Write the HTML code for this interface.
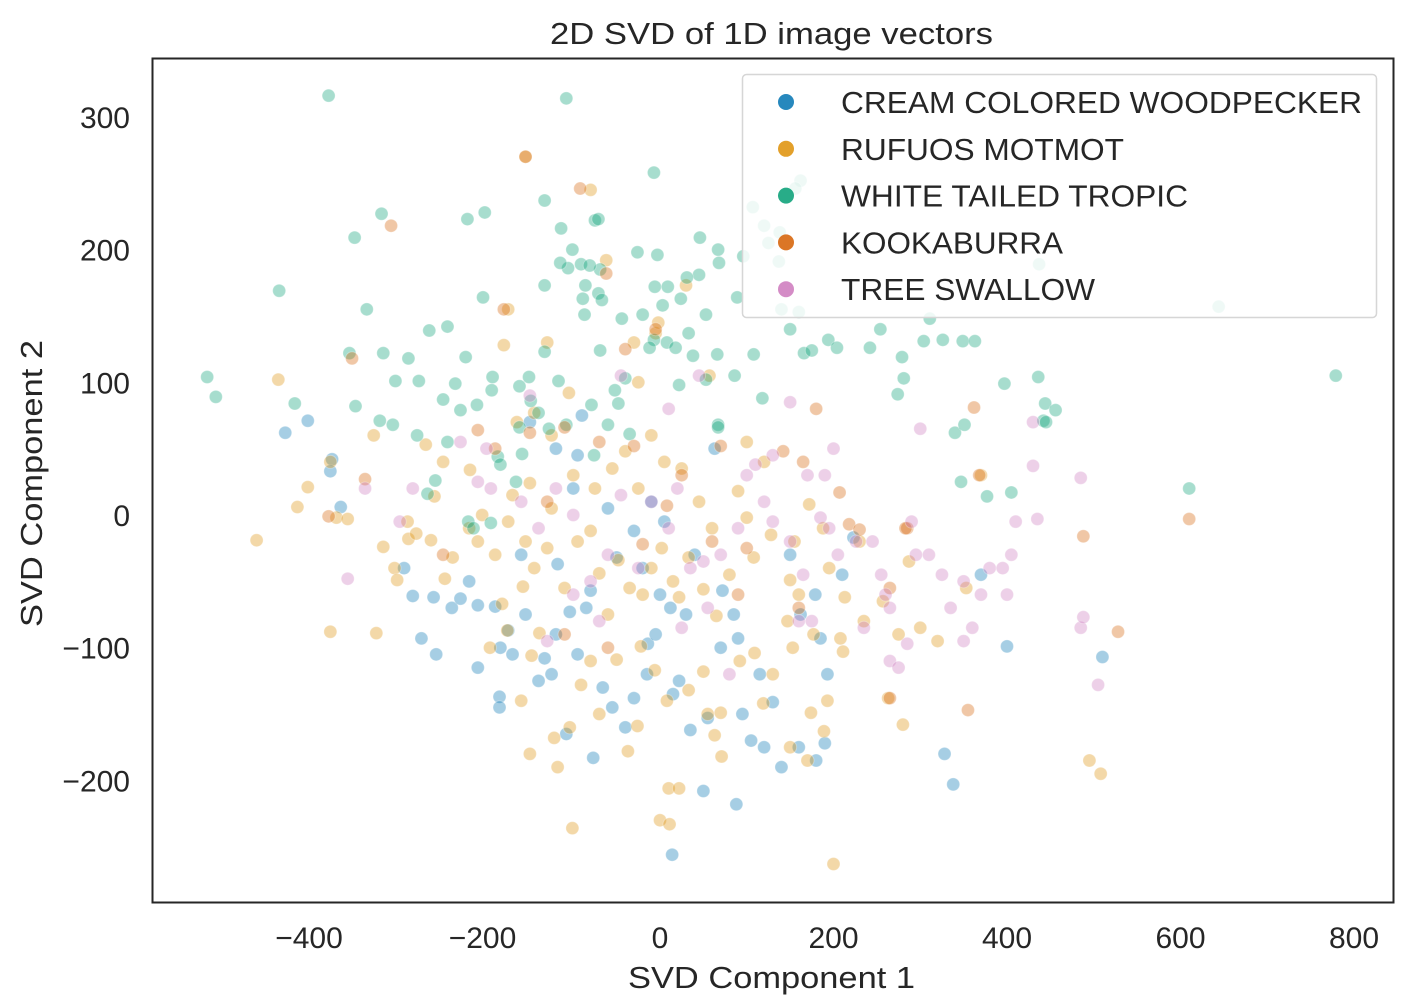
<!DOCTYPE html>
<html><head><meta charset="utf-8"><style>
html,body{margin:0;padding:0;background:#fff;}
svg{display:block;font-family:"Liberation Sans",Arial,sans-serif;}
</style></head><body>
<svg id="chart" width="1428" height="1004" viewBox="0 0 1428 1004" xmlns="http://www.w3.org/2000/svg">
<rect x="0" y="0" width="1428" height="1004" fill="#fff"/>
<text x="550" y="44" textLength="443" lengthAdjust="spacingAndGlyphs" font-size="31" fill="#262626">2D SVD of 1D image vectors</text>
<g id="points"></g>
<rect x="152.5" y="58.5" width="1241" height="844" fill="none" stroke="#262626" stroke-width="2"/>
<g id="xticks"></g>
<g id="yticks"></g>
<text x="628" y="988" textLength="287" lengthAdjust="spacingAndGlyphs" font-size="31" fill="#262626">SVD Component 1</text>
<text transform="translate(42,627) rotate(-90)" textLength="287" lengthAdjust="spacingAndGlyphs" font-size="31" fill="#262626">SVD Component 2</text>
<g id="legend"></g>
</svg>
<script>
const seriesNames = ["CREAM COLORED WOODPECKER","RUFUOS MOTMOT","WHITE TAILED TROPIC","KOOKABURRA","TREE SWALLOW"];
const xTicks = [-400,-200,0,200,400,600,800];
const yTicks = [-200,-100,0,100,200,300];
const blueData = [[-432,62],[-406,71],[-378,42],[-368,6],[-380,33],[-295,-40],[-285,-61],[-275,-93],[-258,-105],[-261,-62],[-240,-70],[-220,-50],[-210,-68],[-190,-69],[-184,-100],[-185,-137],[-185,-145],[-170,-105],[-160,-30],[-155,-75],[-140,-125],[-133,-108],[-125,-120],[-120,-90],[-108,-165],[-104,-73],[-95,-105],[-85,-70],[-77,-183],[-80,-57],[-66,-130],[-55,-145],[-40,-160],[-30,-138],[-15,-120],[-14,-97],[-5,-90],[0,-60],[12,-70],[15,-135],[22,-125],[30,-75],[35,-162],[55,-153],[50,-208],[70,-100],[85,-75],[88,-218],[90,-93],[95,-150],[115,-120],[120,-175],[130,-141],[140,-190],[160,-175],[180,-185],[179,-60],[162,-75],[185,-93],[190,-172],[193,-120],[210,-45],[223,-17],[14,-256],[328,-180],[338,-203],[370,-45],[400,-99],[510,-107],[72,-57],[40,-30],[5,-5],[-10,10],[-30,-12],[-50,-32],[-60,5],[-100,20],[-120,50],[-150,70],[-90,75],[-118,-37],[-230,-63],[-95,45],[63,50],[-175,-87],[-210,-115],[150,-30],[105,-170],[-20,-40]];
const orangeData = [[-465,-19],[-440,102],[-418,6],[-406,21],[-380,-88],[-373,-2],[-327,-89],[-319,-24],[-306,-40],[-303,-49],[-290,-18],[-281,-14],[-264,-19],[-248,-48],[-260,14],[-239,-32],[-219,34],[-220,-10],[-196,-100],[-182,-67],[-176,-87],[-158,-54],[-139,-89],[-148,-106],[-160,-140],[-122,-168],[-118,-190],[-104,-160],[-101,-236],[-91,-128],[-80,-110],[-70,-150],[-50,-109],[-37,-178],[-26,-159],[-22,-99],[-6,-117],[0,-230],[11,-233],[10,-206],[22,-206],[8,-140],[33,-132],[50,-118],[55,-150],[70,-149],[63,-166],[71,-182],[92,-110],[109,-104],[119,-142],[130,-120],[147,-80],[153,-100],[174,-149],[189,-163],[193,-140],[200,-263],[208,-93],[211,-103],[213,-62],[177,-90],[150,-49],[160,-60],[188,-10],[195,-40],[155,-20],[172,8],[128,-15],[108,-32],[100,-2],[80,-45],[65,-76],[50,-56],[33,-32],[22,-62],[15,-50],[2,-25],[-10,-40],[-20,-60],[-35,-55],[-48,-34],[-60,-75],[-70,-44],[-80,-12],[-95,-20],[-110,-55],[-130,-25],[-145,-40],[-155,-20],[-175,-5],[-190,-30],[-205,0],[-170,15],[-150,24],[-125,5],[-100,30],[-75,20],[-55,35],[-40,48],[-25,20],[-10,60],[5,40],[25,35],[45,10],[-30,130],[-25,100],[-62,192],[-80,245],[-155,270],[-130,130],[-175,155],[-180,128],[-145,77],[-125,60],[-165,70],[-105,92],[-5,137],[-2,145],[30,173],[57,105],[150,-175],[170,-185],[235,-80],[263,-138],[257,-65],[275,-90],[280,-158],[287,-35],[300,-85],[320,-95],[353,-55],[370,30],[495,-185],[508,-195],[-360,-3],[-330,60],[-291,-5],[-250,40],[-210,-20],[-380,40],[-270,53],[100,55],[120,40],[90,18],[60,-10],[-150,-180],[230,-20]];
const greenData = [[-382,316],[-108,314],[-7,258],[-522,104],[-512,89],[-439,169],[-352,209],[-321,227],[-338,155],[-358,122],[-319,122],[-290,118],[-305,101],[-266,139],[-278,101],[-421,84],[-351,82],[-323,71],[-308,68],[-280,60],[-259,26],[-268,16],[-245,55],[-222,223],[-202,228],[-224,119],[-245,142],[-204,164],[-236,99],[-250,87],[-230,79],[-211,83],[-194,94],[-162,97],[-151,104],[-149,86],[-140,77],[-128,65],[-162,66],[-133,237],[-114,216],[-106,186],[-101,200],[-115,190],[-91,189],[-86,173],[-89,163],[-87,151],[-75,222],[-71,223],[-69,185],[-71,167],[-81,188],[-133,173],[-67,162],[-44,148],[-26,198],[-3,196],[-6,172],[9,172],[-20,151],[3,158],[-7,132],[-12,126],[33,137],[8,130],[46,209],[67,200],[68,190],[45,181],[31,179],[24,163],[53,151],[18,126],[38,120],[53,102],[22,98],[66,121],[107,232],[120,218],[125,205],[137,191],[96,195],[89,164],[138,213],[162,252],[156,246],[150,140],[108,121],[166,122],[175,124],[194,132],[204,126],[160,153],[140,155],[254,140],[242,126],[279,119],[281,103],[274,91],[304,131],[349,131],[326,132],[311,148],[363,131],[340,62],[351,68],[347,25],[377,14],[405,17],[397,99],[436,104],[444,84],[456,79],[442,71],[445,70],[610,20],[779,105],[437,189],[644,157],[-117,101],[-108,68],[-76,45],[-52,94],[-48,84],[-79,83],[-60,68],[-35,61],[67,68],[67,66],[86,105],[118,88],[-159,46],[-166,25],[-221,-5],[-195,-6],[-215,-10],[-187,44],[-184,38],[-133,123],[-193,104],[-69,124],[-40,103]];
const kookaData = [[-310,218],[-355,118],[-340,27],[-382,-1],[-155,270],[-92,246],[-62,182],[-40,125],[-5,140],[-180,155],[-210,64],[-190,50],[-150,62],[-110,66],[-70,55],[-30,52],[-20,-22],[8,7],[70,52],[100,-25],[160,-70],[142,48],[165,40],[180,80],[207,17],[218,-7],[230,-11],[265,-55],[265,-138],[285,-10],[283,-10],[355,-147],[362,81],[368,30],[488,-16],[528,-88],[610,-3],[-110,-90],[-60,-100],[60,-20],[-250,-30],[25,30],[90,-60],[-130,10]];
const pinkData = [[-360,-48],[-300,-5],[-285,20],[-340,20],[-195,20],[-160,10],[-140,-10],[-120,20],[-100,0],[-80,-50],[-60,-30],[-45,15],[-25,-40],[-10,10],[10,-10],[20,20],[35,-40],[55,-70],[70,-30],[90,-10],[100,30],[110,38],[120,10],[130,-5],[150,-20],[160,-80],[165,-45],[185,-2],[190,30],[200,50],[195,-10],[226,-20],[245,-20],[255,-45],[260,-60],[265,-70],[290,-5],[295,-30],[310,-30],[325,-45],[335,-70],[350,-50],[370,-60],[360,-85],[380,-40],[395,-40],[400,-60],[405,-30],[410,-5],[430,70],[435,-3],[430,37],[485,28],[485,-85],[488,-77],[505,-128],[300,65],[285,-97],[265,-110],[275,-115],[350,-95],[-45,105],[45,105],[10,80],[-150,90],[-210,25],[-100,-60],[-70,-80],[25,-85],[50,-35],[80,-120],[150,85],[-200,50],[-230,55],[235,-85],[175,-80],[205,-30],[170,30],[130,45],[-130,-95]];
const seriesData = [blueData, orangeData, greenData, kookaData, pinkData];
const colors = ["#0173B2","#DE8F05","#029E73","#D55E00","#CC78BC"];
const legendWidths = [521, 283, 347, 222, 254];
const sx = v => 660 + v * 0.8675;
const sy = v => 515 - v * 1.327;
const NS = "http://www.w3.org/2000/svg";
const pts = document.getElementById('points');
seriesData.forEach((arr, si) => {
  arr.forEach(d => {
    const c = document.createElementNS(NS, 'circle');
    c.setAttribute('cx', sx(d[0]));
    c.setAttribute('cy', sy(d[1]));
    c.setAttribute('r', 6.5);
    c.setAttribute('fill', colors[si]);
    c.setAttribute('fill-opacity', 0.35);
    c.setAttribute('stroke', '#fff');
    c.setAttribute('stroke-opacity', 0.3);
    c.setAttribute('stroke-width', 1);
    
    
    pts.appendChild(c);
  });
});
const xg = document.getElementById('xticks');
xTicks.forEach(t => {
  const tx = document.createElementNS(NS, 'text');
  tx.setAttribute('x', sx(t) - (t < 0 ? 4 : 0));
  tx.setAttribute('y', 948);
  tx.setAttribute('text-anchor', 'middle');
  tx.setAttribute('font-size', '30');
  tx.setAttribute('fill', '#262626');
  tx.textContent = t < 0 ? '\u2212' + Math.abs(t) : String(t);
  
  
  xg.appendChild(tx);
});
const yg = document.getElementById('yticks');
yTicks.forEach(t => {
  const tx = document.createElementNS(NS, 'text');
  tx.setAttribute('x', 130);
  tx.setAttribute('y', sy(t) + 11);
  tx.setAttribute('text-anchor', 'end');
  tx.setAttribute('font-size', '30');
  tx.setAttribute('fill', '#262626');
  tx.textContent = t < 0 ? '\u2212' + Math.abs(t) : String(t);
  
  
  yg.appendChild(tx);
});
const lg = document.getElementById('legend');
const box = document.createElementNS(NS, 'rect');
box.setAttribute('x', 742.5); box.setAttribute('y', 74.5);
box.setAttribute('width', 634); box.setAttribute('height', 243);
box.setAttribute('rx', 4);
box.setAttribute('fill', '#fff'); box.setAttribute('fill-opacity', 0.82);
box.setAttribute('stroke', '#d6d6d6'); box.setAttribute('stroke-width', 1.5);


lg.appendChild(box);
seriesNames.forEach((n, i) => {
  const cy = 102 + i * 46.8;
  const c = document.createElementNS(NS, 'circle');
  c.setAttribute('cx', 786); c.setAttribute('cy', cy); c.setAttribute('r', 8);
  c.setAttribute('fill', colors[i]); c.setAttribute('fill-opacity', 0.85);
  
  
  lg.appendChild(c);
  const tx = document.createElementNS(NS, 'text');
  tx.setAttribute('x', 841); tx.setAttribute('y', cy + 11);
  tx.setAttribute('font-size', '31');
  tx.setAttribute('textLength', legendWidths[i]);
  tx.setAttribute('lengthAdjust', 'spacingAndGlyphs');
  tx.setAttribute('fill', '#262626');
  tx.textContent = n;
  
  
  lg.appendChild(tx);
});
</script>
</body></html>
